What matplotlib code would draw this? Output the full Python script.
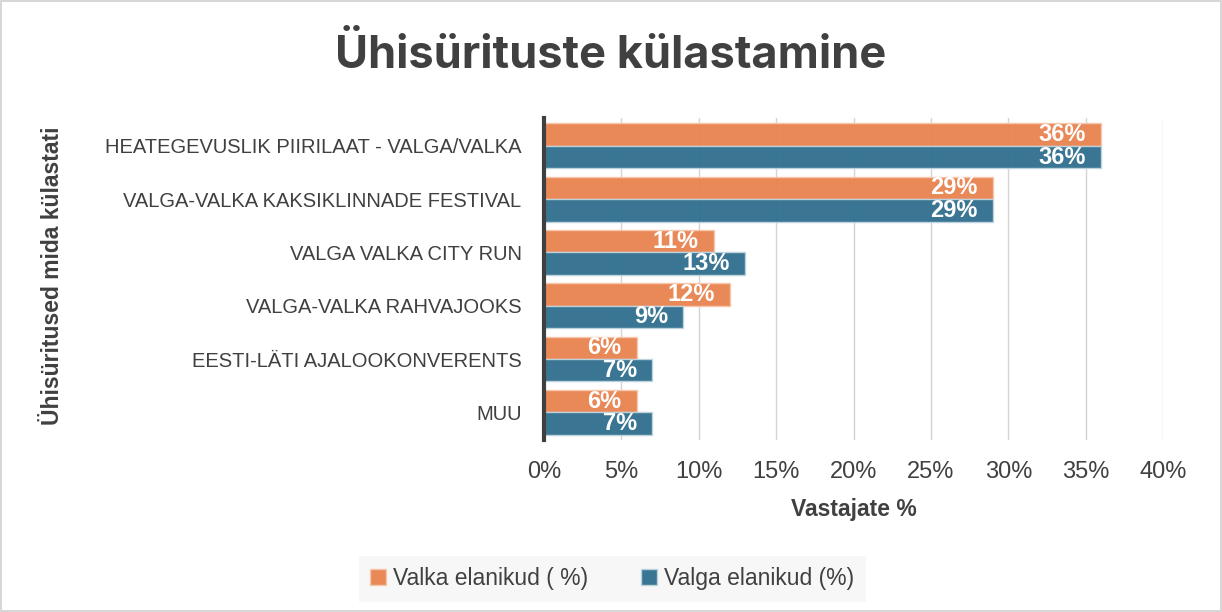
import matplotlib.pyplot as plt
import numpy as np
from matplotlib.patches import Rectangle

plt.rcParams['font.family'] = ['Liberation Sans', 'DejaVu Sans']

categories = [
    'HEATEGEVUSLIK PIIRILAAT - VALGA/VALKA',
    'VALGA-VALKA KAKSIKLINNADE FESTIVAL',
    'VALGA VALKA CITY RUN',
    'VALGA-VALKA RAHVAJOOKS',
    'EESTI-LÄTI AJALOOKONVERENTS',
    'MUU',
]
valka = [36, 29, 11, 12, 6, 6]
valga = [36, 29, 13, 9, 7, 7]
series_names = ['Valka elanikud ( %)', 'Valga elanikud (%)']
xticks = [0, 5, 10, 15, 20, 25, 30, 35, 40]

orange = '#E9834F'
blue = '#2F6F8E'
text_col = '#404040'

fig = plt.figure(figsize=(12.22, 6.12), dpi=100)
fig.patches.append(Rectangle((0.001, 0.002), 0.998, 0.996, transform=fig.transFigure,
                             fill=False, edgecolor='#D0D0D0', linewidth=1.2))
ax = fig.add_axes([0.445, 0.281, 0.507, 0.526])

y = np.arange(len(categories))
h = 0.42
b1 = ax.barh(y - h / 2, valka, height=h, color=orange, alpha=0.95,
             edgecolor='#F6C8AE', linewidth=1, label=series_names[0], zorder=3)
b2 = ax.barh(y + h / 2, valga, height=h, color=blue, alpha=0.95,
             edgecolor='#BFD4DF', linewidth=1, label=series_names[1], zorder=3)

for bars, vals in ((b1, valka), (b2, valga)):
    for bar, v in zip(bars, vals):
        ax.annotate(f'{v}%', (bar.get_width(), bar.get_y() + bar.get_height() / 2),
                    xytext=(-11, 0), textcoords='offset points', ha='right', va='center',
                    color='white', fontweight='bold', fontsize=17, zorder=5)

ax.set_xlim(0, 40)
ax.set_ylim(len(categories) - 0.5 + 0.02, -0.5 - 0.02)
ax.set_xticks(xticks)
ax.set_xticklabels([f'{t}%' for t in xticks], fontsize=17, color=text_col)
ax.set_yticks(y)
ax.set_yticklabels(categories, fontsize=14.5, color=text_col)
ax.tick_params(axis='y', length=0, pad=16)
ax.tick_params(axis='x', length=0, pad=15)
ax.grid(axis='x', color='#D4D4D4', linewidth=1, zorder=0)
ax.set_axisbelow(True)
for s in ('top', 'right', 'bottom'):
    ax.spines[s].set_visible(False)
ax.spines['left'].set_linewidth(3)
ax.spines['left'].set_color('#404040')
ax.spines['left'].set_zorder(6)

ax.set_xlabel('Vastajate %', fontsize=16.5, fontweight='bold', color=text_col, labelpad=11)
fig.text(0.043, 0.55, 'Ühisüritused mida külastati', rotation=90, ha='center', va='center',
         fontsize=16.5, fontweight='bold', color=text_col)

fig.suptitle('Ühisürituste külastamine', x=0.5, y=0.945, fontsize=32.5, fontweight='bold',
             color=text_col, family=['Inter', 'DejaVu Sans'])

leg = fig.legend(handles=[b1, b2], labels=series_names, loc='center', bbox_to_anchor=(0.501, 0.054),
                 ncol=2, frameon=True, fontsize=16.5, handlelength=0.7, handleheight=0.7,
                 handletextpad=0.3, columnspacing=2.3, borderpad=0.5, borderaxespad=0)
leg.get_frame().set_facecolor('#F5F5F5')
leg.get_frame().set_edgecolor('none')
leg.get_frame().set_boxstyle('square', pad=0.0)
for t in leg.get_texts():
    t.set_color(text_col)

fig.savefig('out.png', dpi=100, facecolor='white')
